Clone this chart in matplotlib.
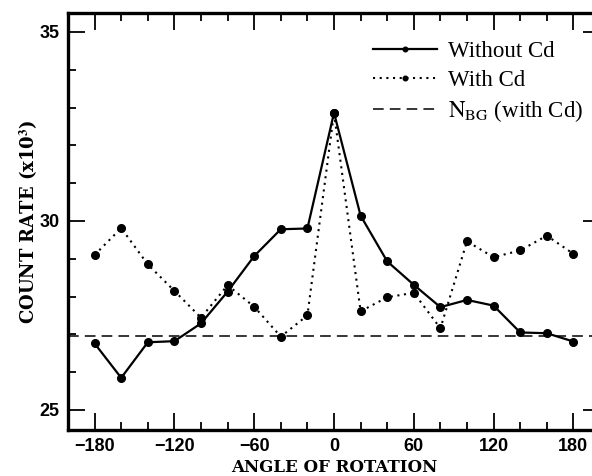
import numpy as np
import matplotlib
matplotlib.use("Agg")
import matplotlib.pyplot as plt
from matplotlib.ticker import MultipleLocator

# angle of rotation (deg)
angle = [-180, -160, -140, -120, -100, -80, -60, -40, -20, 0,
         20, 40, 60, 80, 100, 120, 140, 160, 180]

# count rate (x10^3)
without_cd = [26.76, 25.85, 26.79, 26.82, 27.29, 28.13, 29.07, 29.78, 29.80, 32.86,
              30.14, 28.93, 28.31, 27.72, 27.91, 27.76, 27.05, 27.03, 26.81]
with_cd = [29.10, 29.81, 28.85, 28.15, 27.44, 28.30, 27.73, 26.94, 27.50, 32.86,
           27.61, 27.98, 28.10, 27.16, 29.46, 29.04, 29.22, 29.61, 29.13]
n_bg = 26.95

plt.rcParams['mathtext.fontset'] = 'stix'

fig = plt.figure(figsize=(5.92, 4.76), dpi=100)
W, H = 592, 476
ax = fig.add_axes([68 / W, 1 - 430 / H, (600 - 68) / W, (430 - 13) / H])

ax.plot(angle, without_cd, '-', color='black', lw=1.6, marker='o', ms=5.5,
        label='Without Cd')
ax.plot(angle, with_cd, color='black', lw=1.5, ls=(0, (1, 2.2)), marker='o', ms=5.5,
        label='With Cd')
ax.axhline(n_bg, color='black', lw=1.1, ls=(0, (7, 4)),
           label=r'$\mathrm{N_{BG}}$ (with Cd)')

ax.xaxis.set_major_locator(MultipleLocator(60))
ax.xaxis.set_minor_locator(MultipleLocator(20))
ax.yaxis.set_major_locator(MultipleLocator(5))
ax.yaxis.set_minor_locator(MultipleLocator(1))
ax.tick_params(which='both', direction='in', top=True, right=True, width=1.3, pad=6)
ax.tick_params(which='major', length=12)
ax.tick_params(which='minor', length=6)
for s in ax.spines.values():
    s.set_linewidth(2.4)

ax.set_xticks([-180, -120, -60, 0, 60, 120, 180])
ax.set_xticklabels([str(v).replace('-', '\u2212') for v in [-180, -120, -60, 0, 60, 120, 180]],
                   fontfamily='Liberation Sans', fontweight='bold', fontsize=13)
ax.set_yticks([25, 30, 35])
ax.set_yticklabels(['25', '30', '35'],
                   fontfamily='Liberation Sans', fontweight='bold', fontsize=13)
ax.set_xlim(-200, 200)
ax.set_ylim(24.47, 35.5)

ax.set_xlabel('ANGLE OF ROTATION', fontfamily='DejaVu Serif', fontweight='bold',
              fontsize=12, labelpad=3)
ax.set_ylabel(r'COUNT RATE (x10$^\mathbf{3}$)', fontfamily='DejaVu Serif',
              fontweight='bold', fontsize=13, labelpad=0)

leg = ax.legend(loc='upper right', bbox_to_anchor=(0.998, 0.971), frameon=False,
                prop={'family': 'Liberation Serif', 'size': 16.5}, handlelength=2.8,
                handletextpad=0.45, labelspacing=0.32, markerscale=0.6,
                borderaxespad=0.3)

fig.savefig('out.png', dpi=100)
